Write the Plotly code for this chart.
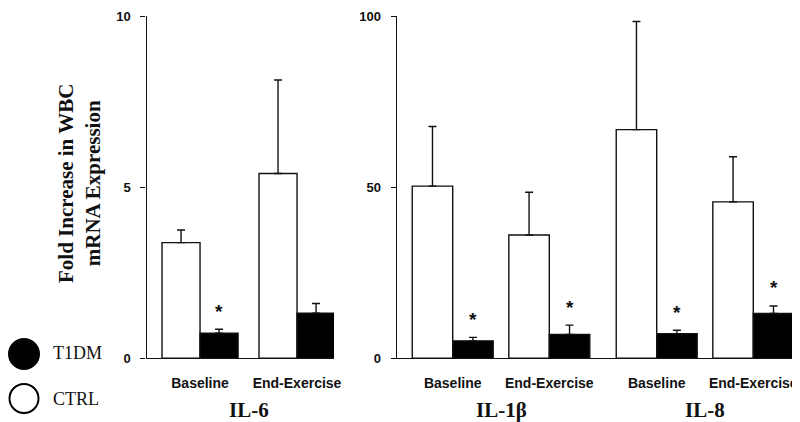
import plotly.graph_objects as go

# ---------------- data ----------------
timepoints = ["Baseline", "End-Exercise"]
panels = ["IL-6", "IL-1β", "IL-8"]

ctrl_il6 = [3.38, 5.40]
ctrl_il6_err = [0.37, 2.73]
t1dm_il6 = [0.73, 1.32]
t1dm_il6_err = [0.12, 0.28]
t1dm_il6_sig = [True, False]

ctrl_il1b = [50.3, 36.0]
ctrl_il1b_err = [17.4, 12.5]
t1dm_il1b = [5.1, 7.0]
t1dm_il1b_err = [1.0, 2.7]
t1dm_il1b_sig = [True, True]

ctrl_il8 = [66.8, 45.7]
ctrl_il8_err = [31.6, 13.2]
t1dm_il8 = [7.2, 13.1]
t1dm_il8_err = [1.0, 2.2]
t1dm_il8_sig = [True, True]

yticks_left = [0, 5, 10]
yticks_right = [0, 50, 100]

# ---------------- figure ----------------
W, H = 800, 422
OFF = 8  # page offset of the plot div inside the browser window

fig = go.Figure()

def px_x(p):
    return (p - OFF) / W

def px_y(p):
    return 1 - (p - OFF) / H

LINE = dict(color="#111111", width=1.4)

panel_specs = [
    ("x", "y", ctrl_il6, ctrl_il6_err, t1dm_il6, t1dm_il6_err, t1dm_il6_sig, 0.392),
    ("x2", "y2", ctrl_il1b, ctrl_il1b_err, t1dm_il1b, t1dm_il1b_err, t1dm_il1b_sig, 0.419),
    ("x3", "y3", ctrl_il8, ctrl_il8_err, t1dm_il8, t1dm_il8_err, t1dm_il8_sig, 0.419),
]

for xa, ya, c, ce, t, te, sig, w in panel_specs:
    fig.add_trace(go.Bar(
        x=timepoints, y=c, xaxis=xa, yaxis=ya, name="CTRL",
        offset=-w, width=w,
        marker=dict(color="white", line=LINE),
        error_y=dict(type="data", symmetric=False, array=ce,
                     arrayminus=[0] * len(ce), color="#111111",
                     thickness=1.4, width=4),
        showlegend=False,
    ))
    fig.add_trace(go.Bar(
        x=timepoints, y=t, xaxis=xa, yaxis=ya, name="T1DM",
        offset=0, width=w,
        marker=dict(color="black", line=LINE),
        error_y=dict(type="data", symmetric=False, array=te,
                     arrayminus=[0] * len(te), color="#111111",
                     thickness=1.4, width=4),
        showlegend=False,
    ))
    for i, s in enumerate(sig):
        if s:
            fig.add_annotation(
                x=i + w / 2, y=t[i] + te[i], xref=xa, yref=ya,
                text="*", showarrow=False, yanchor="middle", yshift=18,
                font=dict(family="Liberation Sans", size=19, color="#111111",
                          weight="bold"),
            )

ydom = [px_y(358.3), px_y(16)]
tick_font = dict(family="Liberation Sans", size=13, color="#111111", weight="bold")
xtick_font = dict(family="Liberation Sans", size=14, color="#111111", weight="bold")

common_x = dict(type="category", showline=True, linecolor="#111111", linewidth=1.4,
                ticks="", showgrid=False, zeroline=False, tickfont=xtick_font,
                ticklabelstandoff=12, fixedrange=True, automargin=False)
common_y = dict(domain=ydom, showline=True, linecolor="#111111", linewidth=1.4,
                ticks="outside", ticklen=5, tickcolor="#111111", tickwidth=1.4,
                showgrid=False, zeroline=False, tickfont=tick_font,
                ticklabelstandoff=7, ticklabeloverflow="allow", automargin=False)

fig.update_layout(
    width=W, height=H,
    margin=dict(l=0, r=0, t=0, b=0, autoexpand=False),
    paper_bgcolor="white", plot_bgcolor="white",
    barmode="overlay",
    xaxis=dict(domain=[px_x(146.5), px_x(334)], range=[-0.552, 1.381],
               anchor="y", **common_x),
    xaxis2=dict(domain=[px_x(396.7), px_x(603)], range=[-0.580, 1.556],
                anchor="y2", **common_x),
    xaxis3=dict(domain=[px_x(603), px_x(795)], range=[-0.556, 1.432],
                anchor="y3", **common_x),
    yaxis=dict(range=[0, 10], tickvals=yticks_left, anchor="x", **common_y),
    yaxis2=dict(range=[0, 100], tickvals=yticks_right, anchor="x2", **common_y),
    yaxis3=dict(domain=ydom, range=[0, 100], visible=False, anchor="x3",
                automargin=False),
)

title_font = dict(family="Liberation Serif", size=21, color="#111111", weight="bold")
for xa, name in zip(["x", "x2", "x3"], panels):
    fig.add_annotation(x=0.5, xref=xa, y=px_y(410), yref="paper", text=name,
                       showarrow=False, font=title_font, yanchor="middle")

fig.add_annotation(x=px_x(79), y=px_y(184), xref="paper", yref="paper",
                   text="Fold Increase in WBC<br>mRNA Expression", textangle=-90,
                   showarrow=False,
                   font=dict(family="Liberation Serif", size=21, color="#111111",
                             weight="bold"),
                   xanchor="center", yanchor="middle")

# legend (drawn manually)
fig.add_shape(type="circle", xref="paper", yref="paper",
              x0=px_x(9), x1=px_x(39), y0=px_y(369), y1=px_y(339),
              fillcolor="black", line=dict(color="black", width=2))
fig.add_shape(type="circle", xref="paper", yref="paper",
              x0=px_x(9.5), x1=px_x(38.5), y0=px_y(413), y1=px_y(384),
              fillcolor="white", line=dict(color="black", width=2))
legend_font = dict(family="Liberation Serif", size=18, color="#111111")
fig.add_annotation(x=px_x(51), y=px_y(353), xref="paper", yref="paper",
                   text="T1DM", showarrow=False, xanchor="left", yanchor="middle",
                   font=legend_font)
fig.add_annotation(x=px_x(51), y=px_y(399), xref="paper", yref="paper",
                   text="CTRL", showarrow=False, xanchor="left", yanchor="middle",
                   font=legend_font)

fig.write_html("out.html")
